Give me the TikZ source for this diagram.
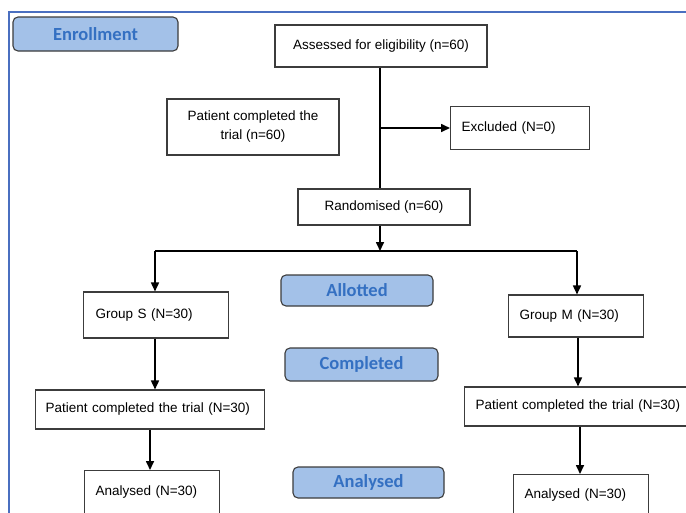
\documentclass[tikz,border=0pt]{standalone}
\usepackage{fontspec}
\setmainfont{Liberation Sans}
\newfontfamily\calib{Carlito}
\usetikzlibrary{arrows.meta}
\definecolor{lblfill}{HTML}{A3C1E8}
\definecolor{lbltext}{HTML}{3470C2}
\definecolor{framecol}{HTML}{4A6FC0}
\definecolor{boxline}{HTML}{3C3C3C}
\tikzset{
  box/.style={draw=boxline, line width=1.1pt, fill=white, font=\fontsize{13.5}{19}\selectfont, inner sep=0pt, align=center},
  lbox/.style={box, align=left, anchor=west},
  stage/.style={draw=boxline, line width=1.1pt, fill=lblfill, rounded corners=5pt, text=lbltext, font=\calib\bfseries\fontsize{18.5}{20}\selectfont, inner sep=0pt},
  conn/.style={line width=1.6pt, draw=black},
  arr/.style={conn, -{Triangle[length=9pt,width=8pt]}}
}
\begin{document}
\begin{tikzpicture}[x=1pt,y=-1pt]
\useasboundingbox (0,0) rectangle (686,512);
\clip (0,0) rectangle (686,512);
\fill[white] (0,0) rectangle (686,512);
\draw[framecol, line width=1.2pt] (9,530) -- (9,12) -- (690,12);

\node[stage, minimum width=165pt, minimum height=34pt] (enr) at (95.5,34) {Enrollment};
\node[box, minimum width=212pt, minimum height=42pt] (assess) at (381,46) {Assessed for eligibility (n=60)};
\node[box, minimum width=172pt, minimum height=56pt] (ptc) at (253,127) {Patient completed the\\trial (n=60)};
\node[lbox, minimum height=43pt, text width=117pt, inner xsep=11pt] (excl) at (450,128) {Excluded (N=0)};
\node[box, minimum width=172pt, minimum height=36pt] (rand) at (384,207) {Randomised (n=60)};

\node[stage, minimum width=152pt, minimum height=31pt] (allot) at (357,290.5) {Allotted};
\node[stage, minimum width=153pt, minimum height=33pt] (compl) at (361.5,364.5) {Completed};
\node[stage, minimum width=151pt, minimum height=31pt] (anl) at (368.5,482.5) {Analysed};

\node[lbox, minimum height=46pt, text width=121pt, inner xsep=12pt] (grpS) at (83,315) {Group S (N=30)};
\node[lbox, minimum height=42pt, text width=113pt, inner xsep=11pt] (grpM) at (508,316) {Group M (N=30)};
\node[lbox, minimum height=39pt, text width=209pt, inner xsep=10pt] (pcS) at (35,409.5) {Patient completed the trial (N=30)};
\node[lbox, minimum height=39pt, text width=214pt, inner xsep=11pt] (pcM) at (464,406.5) {Patient completed the trial (N=30)};
\node[lbox, text width=113pt, inner xsep=11pt, text height=25pt, text depth=35pt, anchor=north west] (anS) at (84,470) {Analysed (N=30)};
\node[lbox, text width=113pt, inner xsep=11pt, text height=24pt, text depth=35pt, anchor=north west] (anM) at (513,474) {Analysed (N=30)};

\coordinate (split) at (380,251);
\draw[conn] (assess.south -| split) -- (split |- rand.north);
\coordinate (br) at (split |- excl.west);
\draw[arr] (br) -- (excl.west);
\draw[arr] (split |- rand.south) -- (split);
\coordinate (sL) at (155,251);
\coordinate (sR) at (577,251);
\draw[conn] (sL) -- (sR);
\draw[arr] (sL) -- (sL |- grpS.north);
\draw[arr] (sR) -- (sR |- grpM.north);
\coordinate (aS) at (155,0);
\draw[arr] (aS |- grpS.south) -- (aS |- pcS.north);
\coordinate (bS) at (150,0);
\draw[arr] (bS |- pcS.south) -- (bS |- anS.north);
\coordinate (aM) at (578,0);
\draw[arr] (aM |- grpM.south) -- (aM |- pcM.north);
\coordinate (bM) at (580,0);
\draw[arr] (bM |- pcM.south) -- (bM |- anM.north);
\end{tikzpicture}
\end{document}
